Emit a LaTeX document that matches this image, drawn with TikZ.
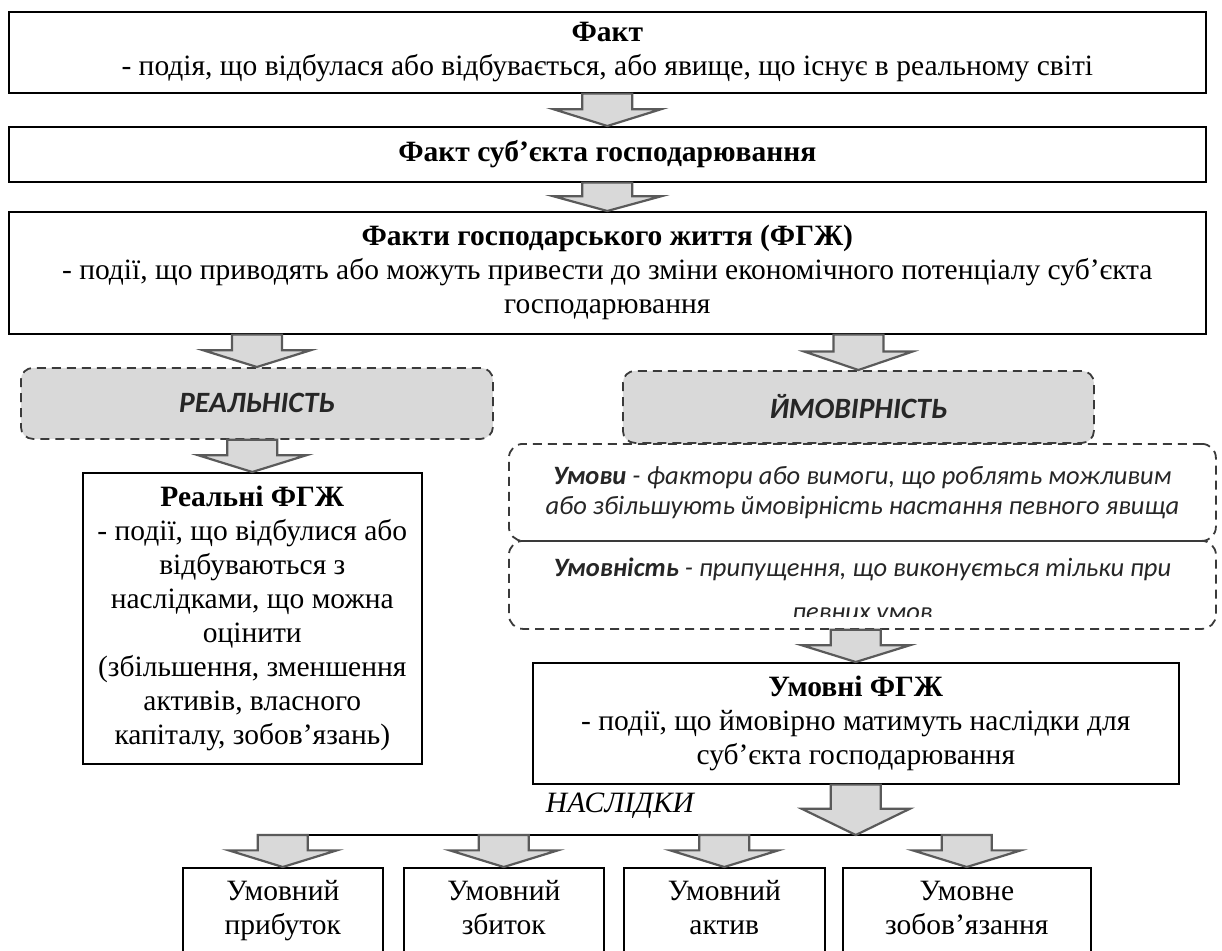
\documentclass[tikz,border=0pt]{standalone}
\usepackage{fontspec}
\setmainfont{Liberation Serif}
\newfontfamily\calfont{Carlito}
\usetikzlibrary{calc}
\definecolor{fillg}{HTML}{D9D9D9}
\definecolor{arrline}{HTML}{5A5A5A}
\definecolor{dashc}{HTML}{3A3A3A}
\newcommand\mytsz{\fontsize{29.5}{34}\selectfont}
\newcommand\mycsz{\fontsize{26.5}{30}\selectfont}
\newcommand\blockarr[2]{%
  \draw[barrow] ($(#1)+(-25,0)$) -- ($(#1)!0.48!(#2)+(-25,0)$) -- ($(#1)!0.48!(#2)+(-54,0)$)
    -- (#2) -- ($(#1)!0.48!(#2)+(54,0)$) -- ($(#1)!0.48!(#2)+(25,0)$) -- ($(#1)+(25,0)$) -- cycle;}
\begin{document}
\begin{tikzpicture}[x=1pt,y=-1pt,
  box/.style={draw=black, line width=1.6pt, fill=white, inner sep=0pt, align=center, anchor=north west, font=\mytsz},
  dbox/.style={draw=dashc, dash pattern=on 9pt off 6pt, line width=1.8pt, rounded corners=14pt, inner sep=0pt, anchor=north west, align=center},
  gbox/.style={dbox, fill=fillg, rounded corners=12pt, font=\calfont\bfseries\itshape\fontsize{29.5}{31}\selectfont, text=black!85},
  ctext/.style={font=\calfont\itshape\mycsz, text=black!85, align=center, inner sep=0pt},
  barrow/.style={draw=arrline, fill=fillg, line width=2.2pt, line join=miter}]
\useasboundingbox (0,0) rectangle (1222,950);

% top chain
\node[box, minimum width=1197pt, minimum height=81pt] (B1) at (8,11)
  {\textbf{Факт}\\- подія, що відбулася або відбувається, або явище, що існує в реальному світі};
\node[box, minimum width=1197pt, minimum height=55pt] (B2) at (8,126)
  {\textbf{Факт суб’єкта господарювання}};
\node[box, minimum width=1197pt, minimum height=122pt] (B3) at (8,211)
  {\textbf{Факти господарського життя (ФГЖ)}\\- події, що приводять або можуть привести до зміни економічного потенціалу суб’єкта\\господарювання};

% left column
\node[gbox, minimum width=472pt, minimum height=71pt] (R) at (20,367) {РЕАЛЬНІСТЬ};
\node[box, minimum width=339pt, minimum height=291pt] (RF) at (82,472)
  {\textbf{Реальні ФГЖ}\\- події, що відбулися або\\відбуваються з\\наслідками, що можна\\оцінити\\(збільшення, зменшення\\активів, власного\\капіталу, зобов’язань)};

% right column
\node[dbox, minimum width=707pt, minimum height=97pt, ctext] (U1) at (508,443)
  {\textbf{Умови} - фактори або вимоги, що роблять можливим\\або збільшують ймовірність настання певного явища};
\node[dbox, minimum width=707pt, minimum height=88pt] (U2) at (508,540) {};
\begin{scope}
  \clip (U2.north west) rectangle ([yshift=13pt]U2.south east);
  \node[ctext, font=\calfont\itshape\fontsize{26.5}{44}\selectfont] (U2t) at ([yshift=-6pt]U2.center)
    {\textbf{Умовність} - припущення, що виконується тільки при\\певних умов};
\end{scope}
\node[gbox, minimum width=471pt, minimum height=72pt] (P) at (622,370) {ЙМОВІРНІСТЬ};
\node[box, minimum width=646pt, minimum height=121pt] (UF) at (532,662)
  {\textbf{Умовні ФГЖ}\\- події, що ймовірно матимуть наслідки для\\суб’єкта господарювання};

% consequences
\node[font=\mytsz\itshape, inner sep=0pt] (NS) at (620,806) {НАСЛІДКИ};
\node[box, minimum width=200pt, minimum height=90pt] (K1) at (182,867) {Умовний\\прибуток\strut};
\node[box, minimum width=200pt, minimum height=90pt] (K2) at (403,867) {Умовний\\збиток\strut};
\node[box, minimum width=201pt, minimum height=90pt] (K3) at (623,867) {Умовний\\актив\strut};
\node[box, minimum width=248pt, minimum height=90pt] (K4) at (842,867) {Умовне\\зобов’язання\strut};

% connectors
\coordinate (lvl) at (0,835);
\coordinate (hub) at (UF.south |- lvl);
\coordinate (k1t) at (K1.north |- lvl);
\coordinate (k2t) at (K2.north |- lvl);
\coordinate (k3t) at (K3.north |- lvl);
\coordinate (k4t) at (K4.north |- lvl);
\coordinate (a3) at (B3.south -| R.north);
\coordinate (a4) at (B3.south -| P.north);
\coordinate (a5) at (R.south -| RF.north);
\coordinate (a6) at (U2.south -| UF.north);

\draw[line width=2.4pt] ($(k1t)+(-25,0)$) -- ($(k4t)+(25,0)$);

\blockarr{B1.south}{B2.north}
\blockarr{B2.south}{B3.north}
\blockarr{a3}{R.north}
\blockarr{a4}{P.north}
\blockarr{a5}{RF.north}
\blockarr{a6}{UF.north}
\blockarr{UF.south}{hub}
\blockarr{k1t}{K1.north}
\blockarr{k2t}{K2.north}
\blockarr{k3t}{K3.north}
\blockarr{k4t}{K4.north}
\end{tikzpicture}
\end{document}
